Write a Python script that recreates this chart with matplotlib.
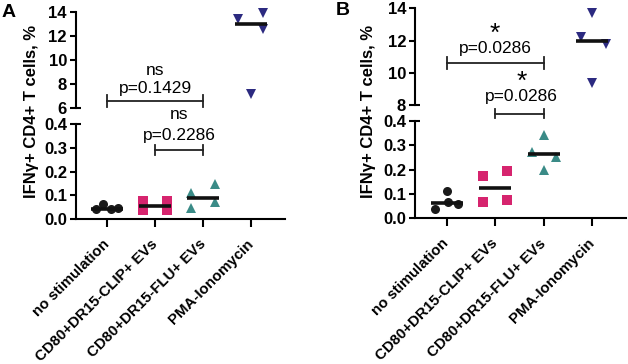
import matplotlib
matplotlib.use("Agg")
import matplotlib.pyplot as plt
import matplotlib.transforms as mtransforms
import numpy as np

plt.rcParams['font.family'] = ['Liberation Sans', 'DejaVu Sans']

categories = ["no stimulation", "CD80+DR15-CLIP+ EVs", "CD80+DR15-FLU+ EVs", "PMA-Ionomycin"]
ylabel = "IFNγ+ CD4+ T cells, %"

# Panel A values (%)
A_nostim = [0.042, 0.065, 0.043, 0.045]
A_clip = [0.075, 0.037, 0.075, 0.037]
A_flu = [0.109, 0.046, 0.147, 0.072]
A_pma = [13.44, 7.2, 13.94, 12.6]
# Panel B values (%)
B_nostim = [0.037, 0.113, 0.068, 0.059]
B_clip = [0.175, 0.068, 0.194, 0.075]
B_flu = [0.273, 0.341, 0.198, 0.252]
B_pma = [12.2, 13.69, 9.38, 11.76]

# horizontal jitter of points within each group (category units)
A_jit = [[-0.23, -0.08, 0.08, 0.23], [-0.25, -0.25, 0.25, 0.25], [-0.25, -0.25, 0.25, 0.25], [-0.27, 0.0, 0.25, 0.25]]
B_jit = [[-0.24, 0.0, 0.02, 0.24], [-0.25, -0.25, 0.25, 0.25], [-0.24, 0.0, 0.0, 0.25], [-0.24, 0.0, 0.0, 0.28]]

A_ptext = ["p=0.1429", "p=0.2286"]
A_sig = ["ns", "ns"]
B_ptext = ["p=0.0286", "p=0.0286"]
B_sig = ["*", "*"]

colors = ["#1a1a1a", "#d6246e", "#3a8b87", "#2c2a80"]
markers = ["o", "s", "^", "v"]
msizes = [6.5, 7, 7, 6.5]

fig = plt.figure(figsize=(6.28, 3.64), dpi=100)


def style(ax, lower):
    for s in ["top", "right"]:
        ax.spines[s].set_visible(False)
    ax.spines["left"].set_linewidth(1.5)
    ax.spines["bottom"].set_linewidth(1.5)
    ax.tick_params(axis="y", length=4.5, width=1.5, labelsize=12, pad=2)
    ax.tick_params(axis="x", length=6, width=1.5, labelsize=10.8, pad=10.5)
    for t in ax.get_yticklabels() + ax.get_xticklabels():
        t.set_fontweight("bold")
    if not lower:
        ax.spines["bottom"].set_visible(False)
        ax.set_xticks([])


def break_mark(ax, y):
    tr = mtransforms.blended_transform_factory(ax.transAxes, ax.transData)
    ax.plot([0, 0.025], [y, y], color="black", lw=1.5, transform=tr, clip_on=False,
            solid_capstyle="butt")


def build(left, right, tt, tb, lt, lb, groups, jits, tylim, tticks, ptexts, sigs, bspec, letter, lxy, ylx):
    w = right - left
    axT = fig.add_axes([left, tb, w, tt - tb])
    axL = fig.add_axes([left, lb, w, lt - lb])
    for ax in (axT, axL):
        ax.set_xlim(-0.65, 3.7)
    axT.set_ylim(*tylim)
    axT.set_yticks(tticks)
    axL.set_ylim(0, 0.4)
    axL.set_yticks([0, 0.1, 0.2, 0.3, 0.4])
    axL.set_yticklabels(["0.0", "0.1", "0.2", "0.3", "0.4"])
    axL.set_xticks(range(4))
    axL.set_xticklabels(categories, rotation=45, ha="right", va="center", rotation_mode="anchor")
    style(axT, False)
    style(axL, True)
    break_mark(axT, tylim[0])
    break_mark(axL, 0.4)
    for i, (vals, jit) in enumerate(zip(groups, jits)):
        ax = axT if i == 3 else axL
        xs = [i + j for j in jit]
        ax.plot(xs, vals, linestyle="none", marker=markers[i], color=colors[i],
                markersize=msizes[i], markeredgewidth=0, zorder=3, clip_on=False)
        med = np.median(vals)
        ax.plot([i - 0.33, i + 0.33], [med, med], color="#111111", lw=2.6, zorder=4,
                solid_capstyle="butt")
    for (which, x0, x1, yb, cap, tx, ty, sy, sfs), pt, sg in zip(bspec, ptexts, sigs):
        ax = axT if which == "T" else axL
        kw = dict(color="#222222", lw=1.3, clip_on=False)
        ax.plot([x0, x1], [yb, yb], **kw)
        ax.plot([x0, x0], [yb - cap, yb + cap], **kw)
        ax.plot([x1, x1], [yb - cap, yb + cap], **kw)
        ax.text(tx, ty, pt, ha="center", va="center", fontsize=12.5, clip_on=False)
        ax.text(tx, sy, sg, ha="center", va="center", fontsize=sfs, clip_on=False)
    fig.text(lxy[0], lxy[1], letter, fontsize=14, fontweight="bold", va="top", ha="left")
    fig.text(ylx, 1 - 111 / 364, ylabel, rotation=90, fontsize=12,
             fontweight="bold", ha="center", va="center")


build(0.1210, 0.4538, 0.967, 0.703, 0.659, 0.398,
      [A_nostim, A_clip, A_flu, A_pma], A_jit, (6, 14), [6, 8, 10, 12, 14],
      A_ptext, A_sig,
      [("T", 0, 2, 6.58, 0.5, 1, 7.67, 9.17, 12.5),
       ("L", 1, 2, 0.29, 0.02, 1.5, 0.354, 0.44, 12.5)],
      "A", (0.003, 0.99), 32 / 628)

build(0.661, 0.997, 0.977, 0.712, 0.668, 0.400,
      [B_nostim, B_clip, B_flu, B_pma], B_jit, (8, 14), [8, 10, 12, 14],
      B_ptext, B_sig,
      [("T", 0, 2, 10.58, 0.37, 1, 11.52, 12.4, 19),
       ("L", 1, 2, 0.43, 0.02, 1.55, 0.498, 0.56, 19)],
      "B", (0.535, 0.995), 368 / 628)

fig.savefig("out.png", dpi=100)
